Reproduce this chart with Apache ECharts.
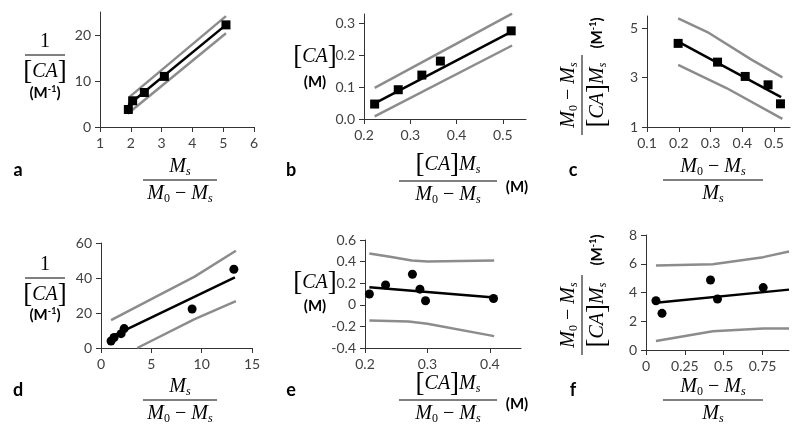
<!DOCTYPE html>
<html><head><meta charset="utf-8">
<script src="https://cdn.jsdelivr.net/npm/echarts@6/dist/echarts.min.js"></script>
<style>html,body{margin:0;padding:0;background:#fff}#c{width:800px;height:434px}</style>
</head><body><div id="c"></div>
<script>
// ---------- data ----------
// panel a
const aX = [1.92, 2.06, 2.44, 3.09, 5.09];
const aY = [3.8, 5.7, 7.5, 11.0, 22.2];
const aFitX = [1.92, 5.09], aFitY = [4.8, 22.2];
const aUpX = [1.97, 5.09], aUpY = [6.6, 24.1];
const aLoX = [1.9, 5.09], aLoY = [2.9, 20.4];
const aXTicks = [1, 2, 3, 4, 5, 6], aYTicks = [0, 10, 20];
// panel b
const bX = [0.223, 0.274, 0.325, 0.365, 0.518];
const bY = [0.047, 0.092, 0.138, 0.182, 0.277];
const bFitX = [0.223, 0.518], bFitY = [0.049, 0.274];
const bUpX = [0.223, 0.52], bUpY = [0.098, 0.331];
const bLoX = [0.223, 0.52], bLoY = [0.008, 0.231];
const bXTicks = [0.2, 0.3, 0.4, 0.5], bYTicks = [0, 0.1, 0.2, 0.3];
// panel c
const cX = [0.198, 0.322, 0.409, 0.481, 0.520];
const cY = [4.39, 3.63, 3.05, 2.71, 1.94];
const cFitX = [0.198, 0.522], cFitY = [4.46, 2.21];
const cUpX = [0.198, 0.29, 0.43, 0.526], cUpY = [5.40, 4.85, 3.72, 3.01];
const cLoX = [0.198, 0.35, 0.526], cLoY = [3.52, 2.58, 1.33];
const cXTicks = [0.1, 0.2, 0.3, 0.4, 0.5], cYTicks = [1, 3, 5];
// panel d
const dX = [1.0, 1.3, 2.0, 2.3, 9.05, 13.2];
const dY = [4.0, 6.0, 8.2, 11.1, 22.3, 45.0];
const dFitX = [1.0, 13.3], dFitY = [6.4, 40.4];
const dUpX = [1.0, 5.0, 9.3, 13.4], dUpY = [15.9, 27.9, 40.8, 55.6];
const dLoX = [3.6, 9.3, 13.4], dLoY = [0, 16.5, 26.8];
const dXTicks = [0, 5, 10, 15], dYTicks = [0, 20, 40, 60];
// panel e
const eX = [0.207, 0.233, 0.276, 0.288, 0.297, 0.406];
const eY = [0.10, 0.184, 0.283, 0.145, 0.037, 0.058];
const eFitX = [0.207, 0.407], eFitY = [0.163, 0.067];
const eUpX = [0.207, 0.24, 0.275, 0.30, 0.407], eUpY = [0.475, 0.445, 0.41, 0.40, 0.41];
const eLoX = [0.207, 0.27, 0.30, 0.407], eLoY = [-0.145, -0.155, -0.175, -0.29];
const eXTicks = [0.2, 0.3, 0.4], eYTicks = [-0.4, -0.2, 0, 0.2, 0.4, 0.6];
// panel f
const fX = [0.064, 0.103, 0.415, 0.46, 0.754];
const fY = [3.43, 2.55, 4.87, 3.55, 4.34];
const fFitX = [0.064, 0.92], fFitY = [3.29, 4.2];
const fUpX = [0.064, 0.43, 0.754, 0.92], fUpY = [5.87, 5.97, 6.46, 6.85];
const fLoX = [0.064, 0.43, 0.754, 0.92], fLoY = [0.63, 1.31, 1.5, 1.5];
const fXTicks = [0, 0.25, 0.5, 0.75], fYTicks = [0, 2, 4, 6, 8];

// ---------- style ----------
const SANS = 'Lato, "Open Sans", "Liberation Sans", sans-serif';
const SERIF = '"Liberation Serif", "DejaVu Serif", serif';
const AX = '#333', LBL = '#404040', GRAY = '#8c8c8c';

const grids = [
  {left: 100, top: 12, width: 154, height: 115},
  {left: 364, top: 14, width: 162, height: 105},
  {left: 647, top: 16, width: 143, height: 111},
  {left: 101, top: 243, width: 151, height: 105},
  {left: 365, top: 240, width: 156, height: 108},
  {left: 646, top: 235, width: 143, height: 115}
];

function axis(i, min, max, ticks, fmt) {
  return {
    type: 'value', gridIndex: i, min: min, max: max,
    axisLine: {show: true, onZero: false, lineStyle: {color: AX, width: 1}},
    axisTick: {show: true, inside: false, length: 5, customValues: ticks, lineStyle: {color: AX}},
    axisLabel: {customValues: ticks, margin: 9, color: LBL, fontFamily: SANS, fontSize: 14,
      formatter: fmt || (v => String(v))},
    splitLine: {show: false}
  };
}
const xAxes = [
  axis(0, 1, 6, aXTicks), axis(1, 0.2, 0.55, bXTicks), axis(2, 0.1, 0.55, cXTicks),
  axis(3, 0, 15, dXTicks), axis(4, 0.2, 0.45, eXTicks), axis(5, 0, 0.92, fXTicks)
];
const yAxes = [
  axis(0, 0, 25, aYTicks), axis(1, 0, 0.33, bYTicks, v => v.toFixed(1)), axis(2, 1, 5.5, cYTicks),
  axis(3, 0, 60, dYTicks), axis(4, -0.4, 0.6, eYTicks), axis(5, 0, 8, fYTicks)
];

function pairs(xs, ys) { return xs.map((x, k) => [x, ys[k]]); }
function panel(i, sym, X, Y, FX, FY, UX, UY, LX, LY) {
  const base = {xAxisIndex: i, yAxisIndex: i, silent: true};
  return [
    Object.assign({type: 'line', data: pairs(UX, UY), showSymbol: false, z: 2,
      lineStyle: {color: GRAY, width: 2.5}}, base),
    Object.assign({type: 'line', data: pairs(LX, LY), showSymbol: false, z: 2,
      lineStyle: {color: GRAY, width: 2.5}}, base),
    Object.assign({type: 'line', data: pairs(FX, FY), showSymbol: false, z: 3,
      lineStyle: {color: '#000', width: 2.5}}, base),
    Object.assign({type: 'scatter', data: pairs(X, Y), symbol: sym, symbolSize: 9, z: 4,
      itemStyle: {color: '#000', opacity: 1}}, base)
  ];
}
const series = [].concat(
  panel(0, 'rect', aX, aY, aFitX, aFitY, aUpX, aUpY, aLoX, aLoY),
  panel(1, 'rect', bX, bY, bFitX, bFitY, bUpX, bUpY, bLoX, bLoY),
  panel(2, 'rect', cX, cY, cFitX, cFitY, cUpX, cUpY, cLoX, cLoY),
  panel(3, 'circle', dX, dY, dFitX, dFitY, dUpX, dUpY, dLoX, dLoY),
  panel(4, 'circle', eX, eY, eFitX, eFitY, eUpX, eUpY, eLoX, eLoY),
  panel(5, 'circle', fX, fY, fFitX, fFitY, fUpX, fUpY, fLoX, fLoY)
);

// ---------- math titles ----------
const mctx = document.createElement('canvas').getContext('2d');
const ST = {
  i: {font: 'italic 20px ' + SERIF, dy: 0},
  n: {font: '20px ' + SERIF, dy: 0},
  br: {font: '27px ' + SERIF, dy: 0},
  sub: {font: 'italic 12px ' + SERIF, dy: 5},
  subn: {font: '12px ' + SERIF, dy: 5},
  b: {font: 'bold 15px ' + SANS, dy: 0},
  sup: {font: 'bold 9px ' + SANS, dy: -4},
  L: {font: 'bold 18px ' + SANS, dy: 0}
};
function row(parts, cx, cy) {
  const ws = parts.map(p => { mctx.font = ST[p[1]].font; return mctx.measureText(p[0]).width; });
  const total = ws.reduce((a, b) => a + b, 0);
  let x = cx - total / 2;
  return parts.map((p, k) => {
    const el = {type: 'text', x: x, y: cy + ST[p[1]].dy,
      style: {text: p[0], font: ST[p[1]].font, fill: '#000', textAlign: 'left',
        textVerticalAlign: 'middle', align: 'left', verticalAlign: 'middle'}};
    x += ws[k];
    return el;
  });
}
function frac(num, den, halfW, cx, cy, rot, gn, gd) {
  const ch = [].concat(
    row(num, 0, -(gn || 13)),
    [{type: 'line', shape: {x1: -halfW, y1: 0, x2: halfW, y2: 0}, style: {stroke: '#000', lineWidth: 1}}],
    row(den, 0, (gd || 14))
  );
  return {type: 'group', x: cx, y: cy, rotation: rot || 0, children: ch};
}
function grp(children, cx, cy, rot) { return {type: 'group', x: cx, y: cy, rotation: rot || 0, children: children}; }

const MS = [['M', 'i'], ['s', 'sub']];
const M0mMs = [['M', 'i'], ['0', 'subn'], [' \u2212 ', 'n'], ['M', 'i'], ['s', 'sub']];
const CA = [['[', 'br'], ['CA', 'i'], [']', 'br']];
const CAMs = CA.concat(MS);
const ONE = [['1', 'n']];
const MINV = [['(M', 'b'], ['-1', 'sup'], [')', 'b']];
const MU = [['(M)', 'b']];

const graphics = [
  // panel letters
  ...row([['a', 'L']], 18, 170), ...row([['b', 'L']], 291, 170), ...row([['c', 'L']], 573, 170),
  ...row([['d', 'L']], 18, 390), ...row([['e', 'L']], 291, 390), ...row([['f', 'L']], 573, 390),
  // a
  frac(ONE, CA, 20, 45, 55, 0, 13, 17), ...row(MINV, 45, 93),
  frac(MS, M0mMs, 37, 180, 180),
  // b
  ...row(CA, 315, 57), ...row(MU, 315, 82),
  frac(CAMs, M0mMs, 49, 448, 181, 0, 16, 14), ...row(MU, 517, 187),
  // c
  frac(M0mMs, CAMs, 40, 582, 95, Math.PI / 2, 13, 16), grp(row(MINV, 0, 0), 597, 33, Math.PI / 2),
  frac(M0mMs, MS, 50, 713, 180),
  // d
  frac(ONE, CA, 20, 45, 278, 0, 13, 17), ...row(MINV, 45, 315),
  frac(MS, M0mMs, 37, 180, 400),
  // e
  ...row(CA, 315, 283), ...row(MU, 315, 306),
  frac(CAMs, M0mMs, 49, 448, 400, 0, 16, 14), ...row(MU, 517, 404),
  // f
  frac(M0mMs, CAMs, 40, 582, 315, Math.PI / 2, 13, 16), grp(row(MINV, 0, 0), 597, 250, Math.PI / 2),
  frac(M0mMs, MS, 50, 713, 400)
];

const chart = echarts.init(document.getElementById('c'), null, {renderer: 'canvas'});
chart.setOption({
  animation: false,
  backgroundColor: '#fff',
  grid: grids,
  xAxis: xAxes,
  yAxis: yAxes,
  series: series,
  graphic: graphics
});
</script></body></html>
